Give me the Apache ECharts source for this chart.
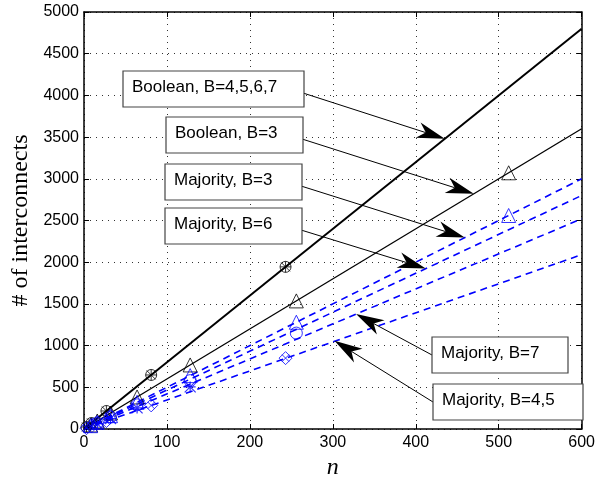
<!DOCTYPE html>
<html>
<head>
<meta charset="utf-8">
<script src="https://cdn.jsdelivr.net/npm/echarts@6/dist/echarts.min.js"></script>
<style>
  html, body { margin: 0; padding: 0; background: #fff; }
  #main { width: 598px; height: 485px; }
</style>
</head>
<body>
<div id="main"></div>
<script>
// x range of the fitted lines
const lineN = [0, 600];
// fitted lines (value at n=0 and n=600)
const boolHigh = [0, 4800];
const bool3 = [0, 3600];
const maj3 = [0, 3000];
const maj6 = [0, 2800];
const maj7 = [0, 2520];
const maj45 = [0, 2090];

// marker points
const pow3N = [3, 9, 27, 81, 243];
const boolHighPts = [24, 72, 216, 648, 1944];
const pow2N = [8, 16, 32, 64, 128, 256, 512];
const bool3Pts = [48, 96, 192, 384, 768, 1536, 3072];
const maj3Pts = [40, 80, 160, 320, 640, 1280, 2560];
const maj6N = [16, 32, 64, 128, 256];
const maj6Pts = [72, 144, 290, 580, 1150];
const maj7N = [16, 32, 64, 128];
const maj7Pts = [63, 126, 253, 505];
const maj45Pts = [10, 31, 95, 283, 850];

// annotation boxes: label, box [x, y, w, h] in px, arrow tip in data coords
const annotations = [
  { text: 'Boolean, B=4,5,6,7', box: [123, 71, 181, 36], tip: [435, 3480], side: 'right' },
  { text: 'Boolean, B=3', box: [166, 117, 137, 36], tip: [470, 2820], side: 'right' },
  { text: 'Majority, B=3', box: [165, 164, 137, 36], tip: [459, 2295], side: 'right' },
  { text: 'Majority, B=6', box: [165, 208, 137, 36], tip: [412, 1925], side: 'right' },
  { text: 'Majority, B=7', box: [432, 337, 136, 36], tip: [328, 1378], side: 'left' },
  { text: 'Majority, B=4,5', box: [433, 384, 150, 36], tip: [302, 1057], side: 'left' }
];

const zip = (xs, ys) => xs.map((x, i) => [x, ys[i]]);

const crossPath = 'path://M0,0L10,10M10,0L0,10';
const plusPath = 'path://M5,0L5,10M0,5L10,5';
const starPath = 'path://M0,0L10,10M10,0L0,10M5,0L5,10M0,5L10,5';

function lineSeries(name, ys, color, width, dashed) {
  return {
    name: name, type: 'line', data: zip(lineN, ys), symbol: 'none',
    lineStyle: { color: color, width: width, type: dashed ? [7, 5] : 'solid' },
    z: 3, silent: true
  };
}
function markSeries(xs, ys, symbol, size, color, width) {
  return {
    type: 'scatter', data: zip(xs, ys), symbol: symbol, symbolSize: size,
    itemStyle: { color: 'rgba(0,0,0,0)', borderColor: color, borderWidth: width || 1 },
    z: 4, silent: true
  };
}

const chart = echarts.init(document.getElementById('main'));

const axisCommon = {
  type: 'value',
  axisLine: { show: true, onZero: false, lineStyle: { color: '#000', width: 1.5 } },
  axisTick: { show: true, inside: true, length: 5, lineStyle: { color: '#000' } }
};
const gridDots = { show: true, lineStyle: { color: '#333', type: [1, 5], width: 1 } };

chart.setOption({
  animation: false,
  grid: { left: 84, right: 13, top: 12, bottom: 47 },
  xAxis: [
    Object.assign({}, axisCommon, {
      min: 0, max: 600, interval: 100,
      name: 'n', nameLocation: 'middle', nameGap: 27,
      nameTextStyle: { fontFamily: 'Liberation Serif', fontStyle: 'italic', fontSize: 24, color: '#000' },
      axisLabel: { color: '#000', fontSize: 16, fontFamily: 'Liberation Sans', margin: 6 },
      splitLine: gridDots
    }),
    Object.assign({}, axisCommon, {
      position: 'top', min: 0, max: 600, interval: 100,
      axisLabel: { show: false }, splitLine: { show: false }
    })
  ],
  yAxis: [
    Object.assign({}, axisCommon, {
      min: 0, max: 5000, interval: 500,
      name: '# of interconnects', nameLocation: 'middle', nameGap: 46,
      nameTextStyle: { fontFamily: 'Liberation Serif', fontSize: 24, color: '#000' },
      axisLabel: { color: '#000', fontSize: 16, fontFamily: 'Liberation Sans', margin: 5,
        formatter: v => String(v) },
      splitLine: gridDots
    }),
    Object.assign({}, axisCommon, {
      position: 'right', min: 0, max: 5000, interval: 500,
      axisLabel: { show: false }, splitLine: { show: false }
    })
  ],
  series: [
    lineSeries('Boolean, B=4,5,6,7', boolHigh, '#000', 2, false),
    lineSeries('Boolean, B=3', bool3, '#000', 1.3, false),
    lineSeries('Majority, B=3', maj3, '#0000ff', 1.6, true),
    lineSeries('Majority, B=6', maj6, '#0000ff', 1.6, true),
    lineSeries('Majority, B=7', maj7, '#0000ff', 1.6, true),
    lineSeries('Majority, B=4,5', maj45, '#0000ff', 1.6, true),
    markSeries(pow3N, boolHighPts, 'circle', 11, '#000', 1),
    markSeries(pow3N, boolHighPts, crossPath, 9, '#000', 1),
    markSeries(pow3N, boolHighPts, plusPath, 11, '#000', 1),
    markSeries(pow2N, bool3Pts, 'triangle', 14, '#000', 1),
    markSeries(pow2N, maj3Pts, 'triangle', 14, '#0000ff', 1),
    markSeries(maj6N, maj6Pts, 'circle', 12, '#0000ff', 1),
    markSeries(maj7N, maj7Pts, starPath, 11, '#0000ff', 1.2),
    markSeries(pow3N, maj45Pts, 'diamond', 13, '#0000ff', 1),
    markSeries(pow3N, maj45Pts, crossPath, 7, '#0000ff', 1)
  ]
});

// annotation boxes + arrows
const elements = [];
annotations.forEach(a => {
  const [bx, by, bw, bh] = a.box;
  const tip = chart.convertToPixel({ xAxisIndex: 0, yAxisIndex: 0 }, a.tip);
  const tail = a.side === 'right' ? [bx + bw, by + bh * 0.62] : [bx, by + bh * 0.5];
  const dx = tip[0] - tail[0], dy = tip[1] - tail[1];
  const len = Math.sqrt(dx * dx + dy * dy);
  const ux = dx / len, uy = dy / len, px = -uy, py = ux;
  const L = 28, W = 8, N = 20;
  const back = [tip[0] - ux * L, tip[1] - uy * L];
  const notch = [tip[0] - ux * N, tip[1] - uy * N];
  elements.push({
    type: 'line', z: 10,
    shape: { x1: tail[0], y1: tail[1], x2: notch[0], y2: notch[1] },
    style: { stroke: '#000', lineWidth: 1 }
  });
  elements.push({
    type: 'polygon', z: 10,
    shape: { points: [tip, [back[0] + px * W, back[1] + py * W], notch, [back[0] - px * W, back[1] - py * W]] },
    style: { fill: '#000' }
  });
  elements.push({
    type: 'rect', z: 11,
    shape: { x: bx, y: by, width: bw, height: bh },
    style: { fill: '#fff', stroke: '#444', lineWidth: 1.2 }
  });
  elements.push({
    type: 'text', z: 12, x: bx + 9, y: by + bh / 2 - 2,
    style: { text: a.text, fill: '#000', font: '17px "Liberation Sans"', verticalAlign: 'middle' }
  });
});
chart.setOption({ graphic: { elements: elements } });
</script>
</body>
</html>
